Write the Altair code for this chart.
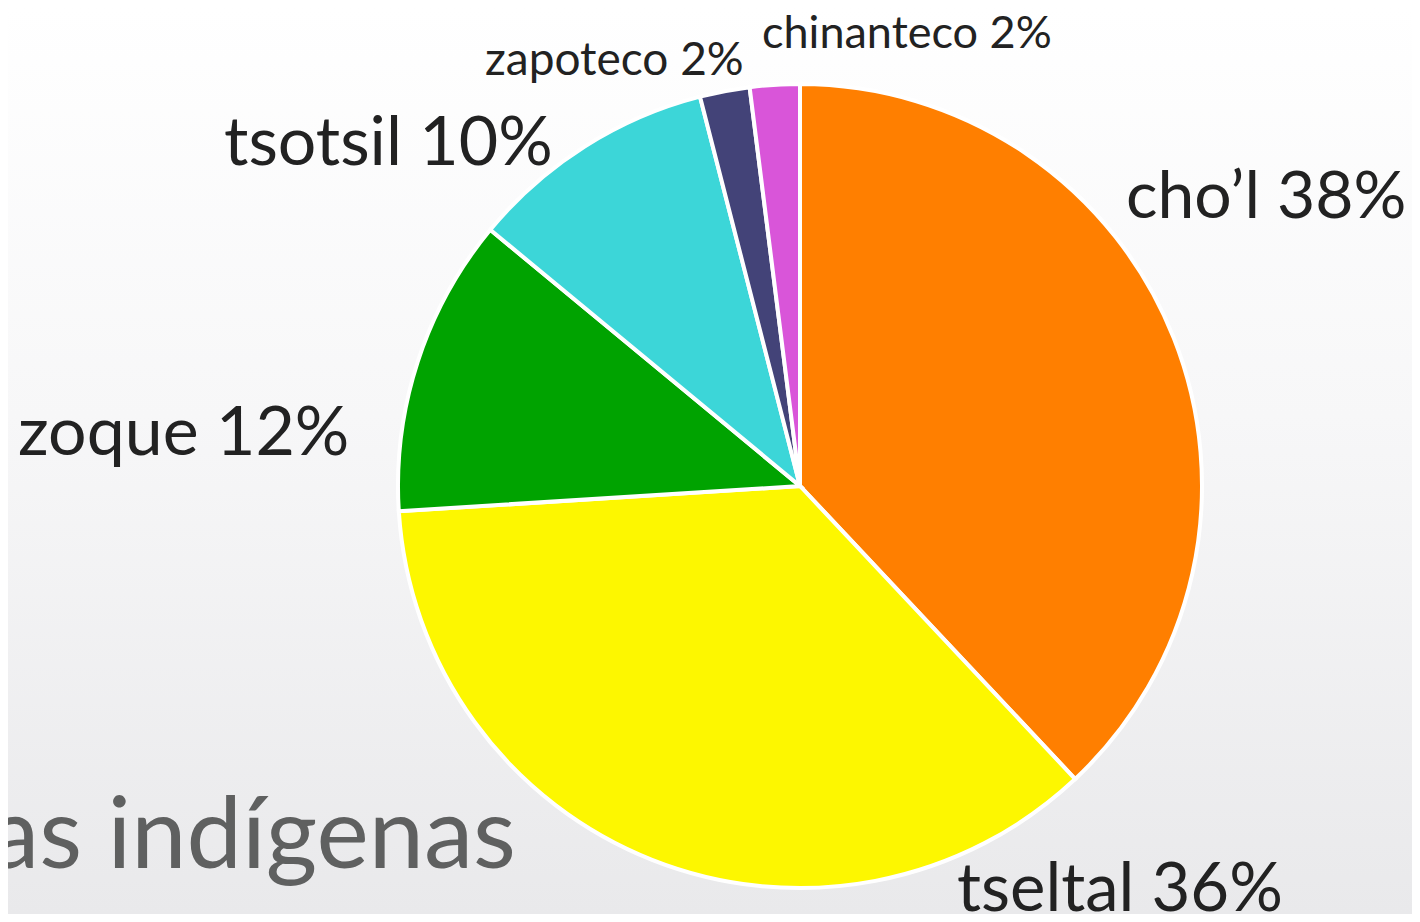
import altair as alt
import pandas as pd

# ---- data ----
languages = ["cho\u2019l", "tseltal", "zoque", "tsotsil", "zapoteco", "chinanteco"]
shares = [38, 36, 12, 10, 2, 2]
order_idx = [0, 1, 2, 3, 4, 5]
colors = ["#FF7F00", "#FDF700", "#00A300", "#3CD6D8", "#434378", "#D955D9"]
title_text = "Lenguas ind\u00edgenas"

df = pd.DataFrame({
    "lang": languages,
    "share": shares,
    "ord": order_idx,
})
df["label"] = df["lang"] + " " + df["share"].astype(str) + "%"

W, H = 1404, 906
OFF = 8  # page margin
FONT = "Lato"

bg = alt.Chart(pd.DataFrame({"k": [0]})).mark_rect(
    color=alt.Gradient(
        gradient="linear",
        stops=[alt.GradientStop(color="#FFFFFF", offset=0),
               alt.GradientStop(color="#F7F7F8", offset=0.45),
               alt.GradientStop(color="#E9E9EB", offset=1)],
        x1=0, x2=0, y1=0, y2=1,
    )
).encode(x=alt.value(0), x2=alt.value(W), y=alt.value(0), y2=alt.value(H))

title = alt.Chart(pd.DataFrame({"t": [title_text]})).mark_text(
    font=FONT, fontSize=99, color="#5F6060", align="right", baseline="alphabetic",
    x=516 - OFF, y=868 - OFF,
).encode(text="t:N")

pie = alt.Chart(df).mark_arc(
    outerRadius=402, stroke="white", strokeWidth=4, x=800 - OFF, y=486 - OFF,
).encode(
    theta=alt.Theta("share:Q", stack=True),
    order=alt.Order("ord:Q"),
    color=alt.Color("lang:N", scale=alt.Scale(domain=languages, range=colors), legend=None),
)

label_pos = {
    "cho\u2019l": (1126, 218, 66),
    "tseltal": (957, 911, 67),
    "zoque": (18, 455, 68),
    "tsotsil": (224, 165, 68),
    "zapoteco": (485, 75, 46),
    "chinanteco": (762, 48, 45),
}

labels = []
for lang, (px, py, fs) in label_pos.items():
    labels.append(
        alt.Chart(df).transform_filter(alt.datum.lang == lang).mark_text(
            font=FONT, fontSize=fs, color="#222222", align="left", baseline="alphabetic",
            x=px - OFF, y=py - OFF,
        ).encode(text="label:N")
    )

chart = alt.layer(bg, title, pie, *labels).properties(
    width=W, height=H, padding=0, autosize=alt.AutoSizeParams(type="none"),
).configure_view(stroke=None).configure(background="white")

chart.save("out.html", embed_options={"renderer": "svg", "actions": False})
